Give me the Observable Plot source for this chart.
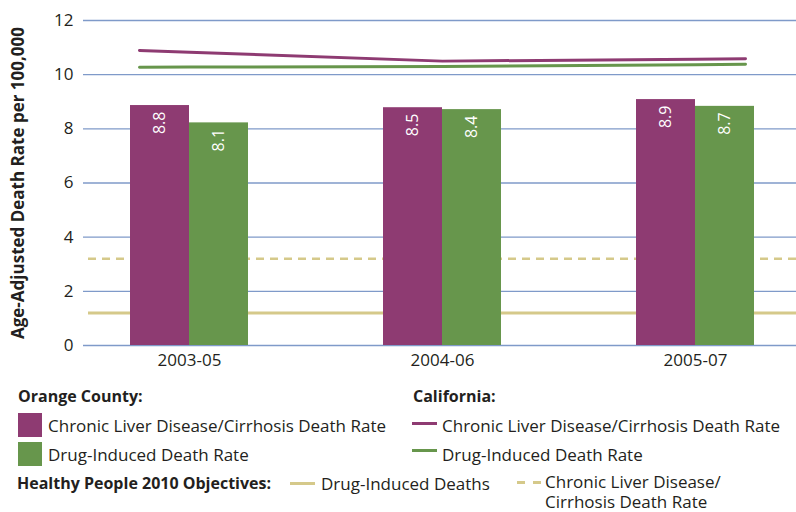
<!DOCTYPE html>
<html>
<head>
<meta charset="utf-8">
<script src="https://cdn.jsdelivr.net/npm/d3@7"></script>
<script src="https://cdn.jsdelivr.net/npm/@observablehq/plot@0.6"></script>
<style>
  body { margin: 0; background: #fff; font-family: "Open Sans", sans-serif; color: #231f20; }
  #wrap { position: relative; width: 796px; height: 512px; }
  .lg { position: absolute; font-size: 17px; line-height: 1; white-space: nowrap; transform: translateY(-50%); }
  .b { font-weight: bold; font-size: 16px; }
  .two { line-height: 20px; transform: none; }
  .sq { position: absolute; width: 24px; height: 24px; }
  .ln { position: absolute; width: 25px; height: 0; }
</style>
</head>
<body>
<div id="wrap"></div>
<script>
// ---- data ----
const periods = ["2003-05", "2004-06", "2005-07"];
// Orange County bars (heights as drawn) and their printed labels
const ocLiver = [8.86, 8.78, 9.08];
const ocDrug = [8.22, 8.71, 8.83];
const ocLiverLabels = ["8.8", "8.5", "8.9"];
const ocDrugLabels = ["8.1", "8.4", "8.7"];
// California lines
const caLiver = [10.83, 10.5, 10.57];
const caDrug = [10.28, 10.3, 10.37];
// Healthy People 2010 objectives
const hpDrug = 1.2;
const hpLiver = 3.2;
const yTicks = [0, 2, 4, 6, 8, 10, 12];
const yLabel = "Age-Adjusted Death Rate per 100,000";

const purple = "#8e3b72";
const green = "#67964c";
const khaki = "#d5c98a";
const gridColor = "#7f9ac9";
const textColor = "#231f20";

const liverRows = periods.map((p, i) => ({period: p, value: ocLiver[i], label: ocLiverLabels[i]}));
const drugRows = periods.map((p, i) => ({period: p, value: ocDrug[i], label: ocDrugLabels[i]}));
const caLiverRows = periods.map((p, i) => ({period: p, value: caLiver[i]}));
const caDrugRows = periods.map((p, i) => ({period: p, value: caDrug[i]}));

// linear curve whose ends are prolonged along the end segments
function extendedLinear(ext) {
  return (context) => {
    let pts = [];
    return {
      areaStart() {}, areaEnd() {},
      lineStart() { pts = []; },
      point(x, y) { pts.push([+x, +y]); },
      lineEnd() {
        const n = pts.length;
        if (!n) return;
        if (n === 1) { context.moveTo(pts[0][0], pts[0][1]); return; }
        const [x0, y0] = pts[0], [x1, y1] = pts[1];
        const [xa, ya] = pts[n - 2], [xb, yb] = pts[n - 1];
        const k0 = (y1 - y0) / (x1 - x0), k1 = (yb - ya) / (xb - xa);
        context.moveTo(x0 - ext, y0 - k0 * ext);
        for (const [x, y] of pts) context.lineTo(x, y);
        context.lineTo(xb + ext, yb + k1 * ext);
      }
    };
  };
}

const half = 59;

const chart = Plot.plot({
  width: 796,
  height: 375,
  marginLeft: 83,
  marginRight: 0,
  marginTop: 20,
  marginBottom: 30,
  style: { fontFamily: "'Open Sans', sans-serif", fontSize: "17px", color: textColor, background: "transparent" },
  x: { domain: periods, paddingInner: 0.534, paddingOuter: 0.176, align: 0.53, label: null },
  y: { domain: [0, 12], label: null },
  marks: [
    Plot.gridY(yTicks, { stroke: gridColor, strokeOpacity: 1, strokeWidth: 1.3 }),
    Plot.ruleY([hpDrug], { stroke: khaki, strokeWidth: 3, insetLeft: 5 }),
    Plot.ruleY([hpLiver], { stroke: khaki, strokeWidth: 2.5, strokeDasharray: "8,6", insetLeft: 5 }),
    Plot.barY(liverRows, { x: "period", y: "value", fill: purple, insetRight: half }),
    Plot.barY(drugRows, { x: "period", y: "value", fill: green, insetLeft: half }),
    Plot.text(liverRows, { x: "period", y: "value", text: "label", dx: -half / 2, dy: 6, rotate: -90, textAnchor: "end", lineAnchor: "middle", fill: "white", fontSize: 16 }),
    Plot.text(drugRows, { x: "period", y: "value", text: "label", dx: half / 2, dy: 6, rotate: -90, textAnchor: "end", lineAnchor: "middle", fill: "white", fontSize: 16 }),
    Plot.line(caLiverRows, { x: "period", y: "value", stroke: purple, strokeWidth: 3, curve: extendedLinear(50) }),
    Plot.line(caDrugRows, { x: "period", y: "value", stroke: green, strokeWidth: 3, curve: extendedLinear(50) }),
    Plot.axisY(yTicks, { tickSize: 0, tickPadding: 10, fontSize: 17, label: null }),
    Plot.axisX({ tickSize: 0, tickPadding: 8, fontSize: 17, label: null }),
    Plot.text([yLabel], { frameAnchor: "left", rotate: -90, dx: -65, textAnchor: "middle", lineAnchor: "middle", fontWeight: "bold", fontSize: 17, fill: textColor })
  ]
});

const wrap = document.getElementById("wrap");
chart.style.position = "absolute";
chart.style.left = "0px";
chart.style.top = "0px";
wrap.appendChild(chart);

function addText(txt, x, y, bold) {
  const d = document.createElement("div");
  d.className = "lg" + (bold ? " b" : "");
  d.textContent = txt;
  d.style.left = x + "px";
  d.style.top = y + "px";
  wrap.appendChild(d);
}
function addTwoLines(lines, x, top) {
  const d = document.createElement("div");
  d.className = "lg two";
  lines.forEach((t, i) => {
    if (i) d.appendChild(document.createElement("br"));
    d.appendChild(document.createTextNode(t));
  });
  d.style.left = x + "px";
  d.style.top = top + "px";
  wrap.appendChild(d);
}
function addSquare(color, x, y) {
  const d = document.createElement("div");
  d.className = "sq";
  d.style.background = color;
  d.style.left = x + "px";
  d.style.top = y + "px";
  wrap.appendChild(d);
}
function addLine(color, x, y, dashed, w) {
  const d = document.createElement("div");
  d.className = "ln";
  d.style.left = x + "px";
  d.style.top = (y - w / 2) + "px";
  d.style.height = w + "px";
  d.style.background = dashed
    ? `repeating-linear-gradient(to right, ${color} 0 8px, transparent 8px 16px)`
    : color;
  wrap.appendChild(d);
}

addText("Orange County:", 18, 396, true);
addSquare(purple, 18, 413);
addText("Chronic Liver Disease/Cirrhosis Death Rate", 48, 425);
addSquare(green, 18, 442);
addText("Drug-Induced Death Rate", 48, 454);
addText("California:", 413, 396, true);
addLine(purple, 412, 423, false, 3);
addText("Chronic Liver Disease/Cirrhosis Death Rate", 442, 425);
addLine(green, 412, 450, false, 3);
addText("Drug-Induced Death Rate", 442, 454);
addText("Healthy People 2010 Objectives:", 17, 483, true);
addLine(khaki, 290, 483, false, 3);
addText("Drug-Induced Deaths", 321, 483);
addLine(khaki, 517, 482, true, 3);
addTwoLines(["Chronic Liver Disease/", "Cirrhosis Death Rate"], 545, 472);
</script>
</body>
</html>
